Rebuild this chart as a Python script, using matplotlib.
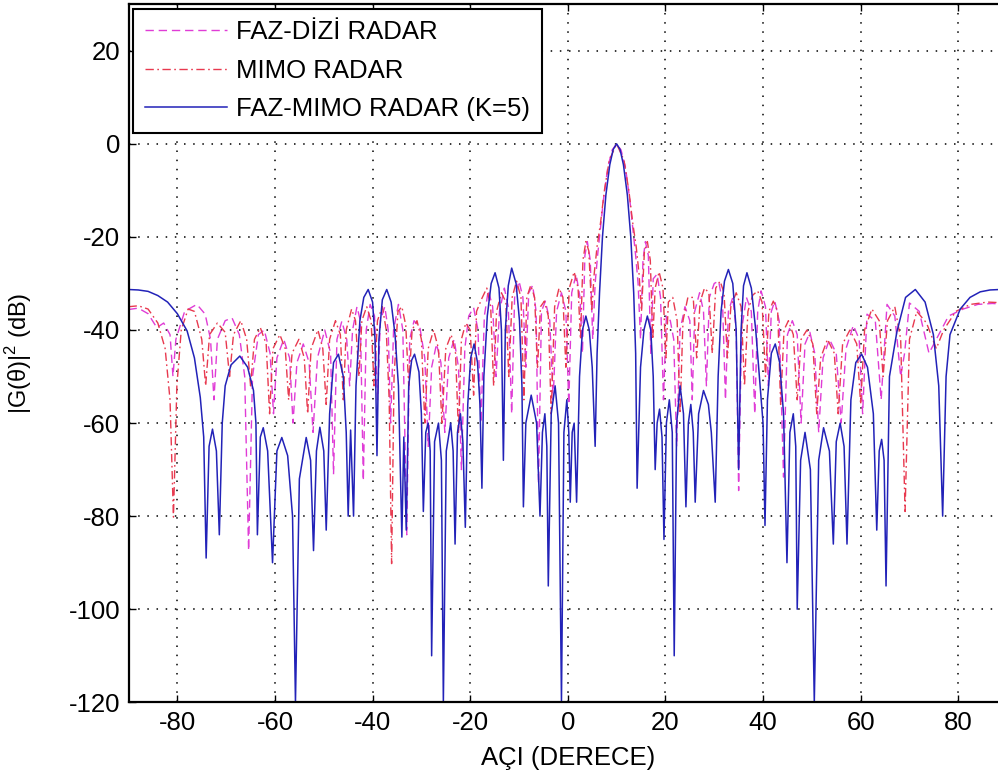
import numpy as np
import matplotlib
matplotlib.use("Agg")
import matplotlib.pyplot as plt

plt.rcParams['font.family'] = ['Liberation Sans', 'DejaVu Sans']
plt.rcParams['mathtext.fontset'] = 'custom'
plt.rcParams['mathtext.rm'] = 'Liberation Sans'

# Beampattern samples: (angle in degrees, |G(theta)|^2 in dB)
faz_dizi_points = [
    (-90, -35.6), (-88, -35.3), (-86, -36.5), (-84.2, -39.5), (-82.8, -38.5), (-81.5, -41),
    (-80.9, -50), (-80.3, -42), (-78.5, -36), (-76, -34.5), (-74.3, -36.6), (-73.2, -42),
    (-72.5, -55), (-71.8, -42), (-70.2, -38), (-68.8, -37.4), (-67.3, -41), (-66.2, -50),
    (-65.4, -87.4), (-64.6, -50), (-63.4, -41), (-62.2, -40), (-61, -45), (-60.3, -58),
    (-59.6, -46), (-58.2, -42), (-57, -46), (-56.3, -60), (-55.5, -47), (-54.2, -43),
    (-53, -47), (-52.2, -62), (-51.3, -46), (-49.8, -40), (-48.6, -45), (-48.0, -71),
    (-47.3, -42), (-46.3, -38.1), (-45.3, -42), (-44.7, -52), (-44.1, -40), (-43.2, -35),
    (-42.5, -38), (-41.9, -72.4), (-41.3, -40), (-40.5, -34.5), (-39.6, -37), (-39.0, -55),
    (-38.4, -38), (-37.5, -35), (-36.8, -40), (-36.3, -60), (-35.7, -40), (-34.7, -34.5),
    (-33.8, -40), (-33.0, -84), (-32.4, -42), (-31.5, -38), (-30.3, -39.5), (-29.3, -46),
    (-28.6, -65), (-27.9, -48), (-26.9, -43), (-26.0, -47), (-25.2, -62), (-24.4, -46),
    (-23.3, -42), (-22.4, -48), (-21.8, -70), (-21.1, -44), (-20.3, -37), (-19.3, -35.2),
    (-18.4, -40), (-17.8, -60), (-17.1, -37), (-16.3, -31.5), (-15.4, -35), (-14.7, -50),
    (-14.0, -36), (-13.0, -31), (-12.2, -35), (-11.5, -58), (-10.9, -33), (-10.0, -29.5),
    (-9.2, -33), (-8.6, -48), (-8.0, -32), (-7.2, -30.4), (-6.5, -36), (-6.0, -73),
    (-5.4, -36), (-4.6, -33.8), (-3.7, -38), (-3.0, -55), (-2.3, -36), (-1.3, -32),
    (-0.4, -36), (0.2, -56), (0.8, -32), (1.7, -28), (2.5, -33), (3.0, -45),
    (3.5, -24), (4.0, -21), (4.6, -25), (5.1, -42), (5.6, -30), (6.1, -24),
    (6.6, -19), (7.3, -12), (8.2, -5), (9.1, -1.3), (10.0, 0), (10.9, -1.3),
    (11.8, -5), (12.7, -12), (13.4, -19), (13.9, -24), (14.4, -30), (14.9, -42),
    (15.4, -25), (15.9, -21), (16.5, -24), (17.0, -45), (17.5, -29), (18.3, -28),
    (19.0, -33), (19.6, -55), (20.2, -37), (21.0, -38), (21.7, -42), (22.3, -65),
    (23.0, -40), (24.0, -35), (25.0, -38), (25.5, -55), (26.0, -36), (27.0, -32),
    (27.8, -36), (28.4, -52), (29.0, -33), (30.0, -30), (30.9, -29.5), (31.7, -34),
    (32.3, -55), (32.9, -36), (33.8, -33), (34.5, -40), (35.0, -74.5), (35.6, -40),
    (36.6, -33), (37.6, -36), (38.3, -58), (38.9, -36), (39.6, -31.6), (40.5, -35),
    (41.1, -52), (41.7, -36), (42.4, -33.8), (43.3, -38), (44.2, -71.6), (45.0, -41),
    (46.0, -38), (47.0, -41), (47.8, -60), (48.6, -43), (49.6, -40.5), (50.6, -45),
    (51.4, -62), (52.3, -46), (53.6, -42), (55.0, -45), (56.0, -60), (57.0, -44),
    (58.5, -39), (59.7, -42), (60.4, -58), (61.3, -36.6), (63.0, -38), (64.2, -55),
    (65.4, -34.5), (67.0, -37), (68.2, -50), (69.0, -45), (70.0, -34.2), (72.0, -36),
    (74.0, -45), (75.5, -42), (78.0, -37), (81, -35.5), (84, -34.5), (87, -34.3),
    (90, -34.5),
]

mimo_points = [
    (-90, -35.0), (-88, -34.8), (-86, -35.5), (-84, -38.5), (-82.5, -44), (-81.5, -55),
    (-80.8, -80.2), (-80.1, -52), (-79.2, -40), (-77.8, -35.5), (-76.5, -36), (-75.0, -42),
    (-74.2, -52), (-73.4, -41), (-71.8, -38.5), (-70.2, -40.5), (-69.3, -50), (-68.5, -41),
    (-67.0, -38), (-65.8, -42), (-65.0, -52), (-64.2, -42), (-63, -39.5), (-61.8, -43),
    (-61.1, -58), (-60.4, -44), (-59, -41), (-57.9, -44), (-57.2, -55), (-56.5, -45),
    (-55.1, -42), (-54.0, -46), (-53.3, -58), (-52.6, -44), (-51.2, -40), (-50.2, -44),
    (-49.5, -56), (-48.8, -42), (-47.6, -38), (-46.6, -41), (-46.0, -55), (-45.4, -40),
    (-44.3, -35.5), (-43.5, -38), (-42.8, -50), (-42.2, -38), (-41.2, -35), (-40.3, -38),
    (-39.7, -52), (-39.0, -38), (-38.0, -35), (-37.2, -40), (-36.6, -55), (-36.1, -90.2),
    (-35.6, -50), (-34.8, -36), (-34.0, -35), (-33.2, -39), (-32.6, -52), (-31.9, -40),
    (-30.9, -38), (-30.0, -42), (-29.3, -60), (-28.6, -44), (-27.5, -40), (-26.5, -44),
    (-25.8, -60), (-25.0, -44), (-23.9, -41), (-23.0, -45), (-22.4, -62), (-21.8, -42),
    (-20.9, -38.5), (-20.0, -40), (-19.3, -54), (-18.7, -36), (-17.6, -33.2), (-16.6, -31),
    (-15.8, -35), (-15.2, -52), (-14.6, -36), (-13.6, -32), (-12.7, -34), (-12.1, -50),
    (-11.4, -33), (-10.5, -29.5), (-9.6, -33), (-9.0, -55), (-8.4, -33), (-7.6, -30.4),
    (-6.8, -33), (-6.2, -48), (-5.6, -35), (-4.8, -33.8), (-4.0, -37), (-3.4, -58),
    (-2.7, -35), (-1.8, -31), (-1.0, -33), (-0.4, -48), (0.3, -31), (1.3, -27.5),
    (2.1, -31), (2.6, -42), (3.1, -25), (3.7, -21), (4.3, -23), (4.9, -36),
    (5.4, -28), (6.0, -22), (6.7, -17), (7.5, -10), (8.5, -3.5), (10.0, 0),
    (11.5, -3.5), (12.5, -10), (13.3, -17), (14.0, -22), (14.6, -28), (15.1, -36),
    (15.7, -23), (16.3, -21), (16.9, -25), (17.4, -42), (17.9, -31), (18.7, -27.5),
    (19.5, -31), (20.1, -46), (20.6, -34), (21.5, -33), (22.4, -38), (23.0, -58),
    (23.6, -38), (24.6, -33), (25.7, -33), (26.4, -46), (27.1, -34), (28.0, -31),
    (28.9, -32), (29.6, -45), (30.3, -31), (31.2, -29.5), (32.0, -32), (32.7, -46),
    (33.4, -35), (34.5, -32), (35.5, -35), (36.2, -52), (36.9, -36), (37.9, -32.5),
    (38.9, -31.6), (39.8, -34), (40.5, -50), (41.2, -36), (42.1, -33.8), (43.0, -36),
    (43.6, -56), (44.3, -40), (45.2, -38), (46.2, -41), (47.0, -55), (47.8, -42),
    (49.0, -40), (50.2, -43), (51.0, -58), (51.8, -46), (53.2, -42), (54.6, -45),
    (55.4, -58), (56.3, -43), (57.8, -40), (59.2, -43), (60.0, -56), (60.8, -40),
    (62.3, -35.5), (63.8, -38), (64.6, -50), (65.5, -38), (67.0, -35), (68.2, -42),
    (69.1, -79), (70.0, -42), (71.5, -36), (73.5, -38.5), (75.5, -44), (77.0, -40),
    (79.5, -36), (82.5, -34.5), (86, -34), (90, -34.2),
]

faz_mimo_points = [
    (-90, -31.3), (-88, -31.4), (-86, -31.7), (-84, -32.6), (-82, -34.0), (-80, -36.5),
    (-78, -40.2), (-76.5, -46), (-75.3, -54.5), (-74.6, -63), (-74.1, -89),
    (-73.5, -65), (-72.8, -61.3), (-72.0, -66), (-71.4, -84),
    (-70.8, -60), (-70.2, -52), (-69.0, -47.5), (-67.2, -45.6), (-65.6, -48), (-64.4, -53),
    (-63.9, -60), (-63.6, -84),
    (-63.0, -63), (-62.4, -61), (-61.5, -66), (-60.5, -90),
    (-59.6, -66), (-58.6, -63.1), (-57.4, -67), (-56.4, -80), (-55.8, -120),
    (-55.0, -72), (-53.6, -63.1), (-52.7, -68), (-52.1, -87.4),
    (-51.5, -66), (-50.8, -60.9), (-50.0, -66), (-49.5, -83),
    (-48.8, -58), (-48.0, -47), (-47.0, -45.2), (-46.0, -50), (-45.4, -62), (-45.0, -80),
    (-44.5, -61.5), (-43.9, -80),
    (-43.4, -52), (-42.6, -38), (-41.8, -33), (-40.9, -31.3), (-40.0, -34), (-39.5, -42),
    (-39.1, -67),
    (-38.7, -42), (-38.0, -33.5), (-37.1, -31.3), (-36.2, -34), (-35.4, -41), (-34.7, -52),
    (-34.0, -84.5),
    (-33.6, -63), (-33.1, -83),
    (-32.6, -52), (-32.0, -46.5), (-31.4, -45.2), (-30.5, -49), (-30.0, -58), (-29.6, -79),
    (-29.1, -62), (-28.6, -60), (-28.2, -66), (-27.9, -110),
    (-27.3, -64), (-26.5, -60), (-25.9, -68), (-25.5, -120),
    (-24.9, -66), (-24.0, -60), (-23.5, -66), (-23.1, -86),
    (-22.6, -62), (-22.0, -58), (-21.5, -64), (-21.0, -82.4),
    (-20.5, -56), (-19.9, -46), (-19.2, -43), (-18.5, -47), (-18.0, -56), (-17.6, -74),
    (-17.2, -50), (-16.5, -37), (-15.7, -30), (-14.9, -27.7), (-14.1, -31), (-13.6, -40),
    (-13.2, -68),
    (-12.8, -40), (-12.2, -30.5), (-11.5, -26.7), (-10.6, -30), (-9.9, -38), (-9.4, -52),
    (-9.1, -78),
    (-8.6, -60), (-7.5, -54), (-6.4, -60), (-5.7, -80),
    (-5.2, -62), (-4.7, -58), (-4.3, -65), (-4.0, -95),
    (-3.4, -58), (-2.6, -52), (-1.9, -60), (-1.3, -120),
    (-0.8, -62), (-0.2, -55), (0.2, -62), (0.5, -77),
    (0.9, -62), (1.3, -60), (1.8, -77),
    (2.4, -50), (3.0, -40), (3.7, -37), (4.4, -40), (5.0, -48), (5.6, -65),
    (6.0, -45), (6.5, -32), (7.1, -20), (7.8, -11), (8.6, -4.5), (9.3, -1.2), (10.0, 0),
    (10.7, -1.2), (11.4, -4.5), (12.2, -11), (12.9, -20), (13.5, -32), (13.9, -45),
    (14.2, -74),
    (14.9, -48), (15.6, -40), (16.3, -37), (17.0, -40), (17.5, -50), (17.9, -70),
    (18.3, -60), (18.8, -57), (19.3, -63), (19.7, -85),
    (20.2, -60), (20.8, -55), (21.4, -62), (21.8, -110),
    (22.3, -60), (23.0, -52), (23.7, -58), (24.2, -78),
    (24.7, -60), (25.2, -56), (25.7, -62), (26.1, -77),
    (26.8, -58), (27.8, -53), (28.8, -56), (29.4, -62), (30.2, -77),
    (30.8, -50), (31.4, -36), (32.1, -29.5), (32.9, -27), (33.8, -30), (34.5, -40),
    (35.0, -70),
    (35.5, -40), (36.0, -30.5), (36.7, -27.7), (37.6, -31), (38.5, -40), (39.4, -52),
    (40.0, -60), (40.4, -82),
    (40.9, -55), (41.7, -45), (42.5, -43), (43.4, -47), (44.2, -58), (44.9, -90),
    (45.5, -62), (46.2, -58), (46.7, -65), (47.0, -100),
    (47.7, -68), (48.6, -62), (49.7, -70), (50.5, -120),
    (51.4, -68), (52.4, -61), (53.6, -66), (54.4, -86),
    (55.0, -64), (55.8, -60), (56.6, -65), (57.2, -86),
    (58.0, -55), (59.0, -47), (60.2, -45.2), (61.4, -48), (62.6, -58), (63.3, -83),
    (63.8, -66), (64.3, -63.5), (64.8, -68), (65.2, -95),
    (65.9, -50), (67.4, -40.5), (69.2, -33), (71.2, -31.3), (73.2, -34), (74.9, -41),
    (76.0, -52), (76.8, -80),
    (77.5, -50), (78.3, -41), (80.4, -35.5), (82.4, -33), (84.5, -31.8), (86.5, -31.4),
    (88.5, -31.3), (90, -31.3),
]

series_labels = ['FAZ-DİZİ RADAR', 'MIMO RADAR', 'FAZ-MIMO RADAR (K=5)']
x_ticks = [-80, -60, -40, -20, 0, 20, 40, 60, 80]
y_ticks = [-120, -100, -80, -60, -40, -20, 0, 20]

fig = plt.figure(figsize=(9.98, 7.80), dpi=100)
ax = fig.add_axes([0.1288, 0.0996, 0.8803, 0.8950])

fd = np.array(faz_dizi_points).T
mm = np.array(mimo_points).T
fm = np.array(faz_mimo_points).T

ax.plot(fd[0], fd[1], color='#e03cd6', lw=1.0, dashes=(6, 3.5), label=series_labels[0])
ax.plot(mm[0], mm[1], color='#e8394f', lw=1.0, dashes=(6, 2.5, 1.2, 2.5), label=series_labels[1])
ax.plot(fm[0], fm[1], color='#2222b8', lw=1.1, label=series_labels[2])

ax.set_xlim(-90, 90)
ax.set_ylim(-120, 30)
ax.set_xticks(x_ticks)
ax.set_yticks(y_ticks)
ax.set_xticklabels([str(t) for t in x_ticks])
ax.set_yticklabels([str(t) for t in y_ticks])
ax.grid(True, color='black', linestyle=(0, (1, 5)), linewidth=1.1)
ax.tick_params(direction='in', length=5, width=1, labelsize=18.5, top=True, right=True, pad=6)
for s in ax.spines.values():
    s.set_linewidth(1.6)

ax.set_xlabel('AÇI (DERECE)', fontsize=18.5, labelpad=8)
ax.set_ylabel('|G(θ)|$^2$ (dB)', fontsize=17)
ax.yaxis.set_label_coords(-0.108, 0.5)

leg = ax.legend(loc='upper left', fontsize=18.5, frameon=True, fancybox=False,
                edgecolor='black', framealpha=1, borderaxespad=0.18, handlelength=3.2,
                handletextpad=0.35, labelspacing=0.56, borderpad=0.45)
leg.get_frame().set_linewidth(1.5)

fig.savefig('out.png', dpi=100)
